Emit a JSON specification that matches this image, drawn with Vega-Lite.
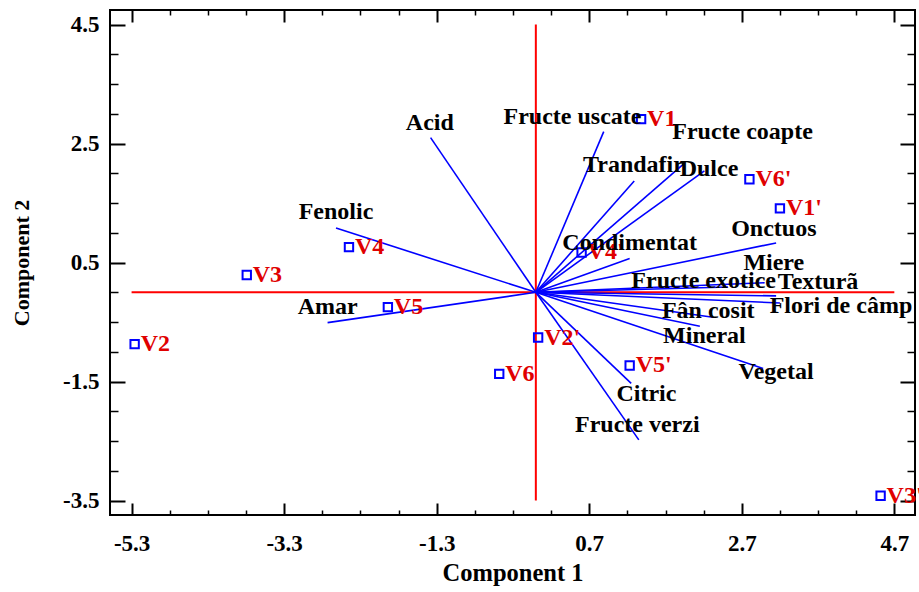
{
  "$schema": "https://vega.github.io/schema/vega-lite/v6.json",
  "width": 805,
  "height": 505,
  "autosize": {"type": "none"},
  "padding": {"left": 110, "top": 10, "right": 4, "bottom": 77},
  "background": "white",
  "config": {
    "font": "Liberation Serif",
    "view": {"stroke": "black", "strokeWidth": 2},
    "axis": {
      "domain": false,
      "grid": false,
      "tickColor": "black",
      "tickWidth": 2,
      "labelFont": "Liberation Serif",
      "labelFontSize": 23,
      "labelFontWeight": "bold",
      "labelColor": "black",
      "titleFont": "Liberation Serif",
      "titleFontWeight": "bold",
      "titleColor": "black"
    }
  },
  "datasets": {
    "crosshair": [
      {"x": -5.3, "x2": 4.7, "y": 0, "y2": 0},
      {"x": 0, "x2": 0, "y": -3.5, "y2": 4.5}
    ],
    "loadings": [
      {"v": "Acid", "x": -1.38, "y": 2.60, "lx": -1.39, "ly": 2.85},
      {"v": "Fenolic", "x": -2.62, "y": 1.08, "lx": -2.62, "ly": 1.35},
      {"v": "Amar", "x": -2.73, "y": -0.51, "lx": -2.73, "ly": -0.24},
      {"v": "Fructe uscate", "x": 0.89, "y": 2.70, "lx": 0.48, "ly": 2.95},
      {"v": "Trandafir", "x": 1.29, "y": 1.87, "lx": 1.28, "ly": 2.14},
      {"v": "Fructe coapte", "x": 1.95, "y": 2.17, "lx": 2.71, "ly": 2.69},
      {"v": "Dulce", "x": 2.21, "y": 2.04, "lx": 2.27, "ly": 2.07},
      {"v": "Condimentat", "x": 1.23, "y": 0.57, "lx": 1.23, "ly": 0.83},
      {"v": "Onctuos", "x": 3.15, "y": 0.83, "lx": 3.12, "ly": 1.07},
      {"v": "Miere", "x": 3.00, "y": 0.16, "lx": 3.12, "ly": 0.49},
      {"v": "Fructe exotice", "x": 2.52, "y": 0.09, "lx": 2.20, "ly": 0.19},
      {"v": "Texturã", "x": 3.15, "y": -0.06, "lx": 3.70, "ly": 0.17},
      {"v": "Flori de câmp", "x": 3.20, "y": -0.18, "lx": 4.00, "ly": -0.23},
      {"v": "Fân cosit", "x": 2.32, "y": -0.42, "lx": 2.26, "ly": -0.31},
      {"v": "Mineral", "x": 2.15, "y": -0.57, "lx": 2.21, "ly": -0.74},
      {"v": "Vegetal", "x": 2.98, "y": -1.28, "lx": 3.15, "ly": -1.34},
      {"v": "Citric", "x": 1.25, "y": -1.53, "lx": 1.45, "ly": -1.71},
      {"v": "Fructe verzi", "x": 1.35, "y": -2.48, "lx": 1.33, "ly": -2.23}
    ],
    "scores": [
      {"s": "V1", "x": 1.38, "y": 2.91},
      {"s": "V6'", "x": 2.80, "y": 1.90},
      {"s": "V1'", "x": 3.20, "y": 1.41},
      {"s": "V4'", "x": 0.60, "y": 0.67},
      {"s": "V4", "x": -2.45, "y": 0.76},
      {"s": "V3", "x": -3.79, "y": 0.29},
      {"s": "V5", "x": -1.94, "y": -0.25},
      {"s": "V2", "x": -5.26, "y": -0.87},
      {"s": "V2'", "x": 0.03, "y": -0.76},
      {"s": "V6", "x": -0.48, "y": -1.37},
      {"s": "V5'", "x": 1.23, "y": -1.23},
      {"s": "V3'", "x": 4.52, "y": -3.42}
    ]
  },
  "resolve": {"axis": {"x": "independent", "y": "independent"}},
  "layer": [
    {
      "data": {"name": "crosshair"},
      "mark": {"type": "rule", "color": "#ff0000", "strokeWidth": 2},
      "encoding": {
        "x": {
          "field": "x", "type": "quantitative",
          "scale": {"domain": [-5.583, 4.971], "nice": false, "zero": false},
          "axis": {
            "orient": "bottom",
            "values": [-5.3, -3.3, -1.3, 0.7, 2.7, 4.7],
            "tickSize": -12,
            "labelPadding": 29,
            "labelExpr": "datum.value < 0 ? '-' + format(-datum.value, '.1f') : format(datum.value, '.1f')",
            "title": "Component 1",
            "titleFontSize": 24.5,
            "titlePadding": 6
          }
        },
        "x2": {"field": "x2"},
        "y": {
          "field": "y", "type": "quantitative",
          "scale": {"domain": [-3.743, 4.745], "nice": false, "zero": false},
          "axis": {
            "orient": "left",
            "values": [-3.5, -1.5, 0.5, 2.5, 4.5],
            "tickSize": -15,
            "labelPadding": 26,
            "labelExpr": "datum.value < 0 ? '-' + format(-datum.value, '.1f') : format(datum.value, '.1f')",
            "title": "Component 2",
            "titleFontSize": 22,
            "titlePadding": 29
          }
        },
        "y2": {"field": "y2"}
      }
    },
    {
      "data": {"name": "loadings"},
      "mark": {"type": "rule", "color": "#0000ff", "strokeWidth": 1.6},
      "encoding": {
        "x": {"field": "x", "type": "quantitative", "scale": {"domain": [-5.583, 4.971], "nice": false, "zero": false}, "axis": null},
        "x2": {"datum": 0},
        "y": {"field": "y", "type": "quantitative", "scale": {"domain": [-3.743, 4.745], "nice": false, "zero": false}, "axis": null},
        "y2": {"datum": 0}
      }
    },
    {
      "data": {"name": "scores"},
      "mark": {"type": "point", "shape": "square", "filled": false, "color": "#0000ff", "strokeWidth": 2, "size": 70, "opacity": 1},
      "encoding": {
        "x": {
          "field": "x", "type": "quantitative",
          "scale": {"domain": [-5.583, 4.971], "nice": false, "zero": false},
          "axis": {"orient": "top", "values": [-5.3, -3.3, -1.3, 0.7, 2.7, 4.7], "tickSize": -12, "labels": false, "title": null}
        },
        "y": {
          "field": "y", "type": "quantitative",
          "scale": {"domain": [-3.743, 4.745], "nice": false, "zero": false},
          "axis": {"orient": "right", "values": [-3.5, -1.5, 0.5, 2.5, 4.5], "tickSize": -15, "labels": false, "title": null}
        }
      }
    },
    {
      "data": {"name": "scores"},
      "mark": {"type": "text", "align": "left", "baseline": "middle", "dx": 6, "dy": 0, "font": "Liberation Serif", "fontSize": 24, "fontWeight": "bold", "color": "#e00000"},
      "encoding": {
        "x": {
          "field": "x", "type": "quantitative",
          "scale": {"domain": [-5.583, 4.971], "nice": false, "zero": false},
          "axis": {"orient": "bottom", "values": [-4.8, -4.3, -3.8, -2.8, -2.3, -1.8, -0.8, -0.3, 0.2, 1.2, 1.7, 2.2, 3.2, 3.7, 4.2], "tickSize": -5, "tickWidth": 1.5, "labels": false, "title": null}
        },
        "y": {
          "field": "y", "type": "quantitative",
          "scale": {"domain": [-3.743, 4.745], "nice": false, "zero": false},
          "axis": {"orient": "left", "values": [-3.0, -2.5, -2.0, -1.0, -0.5, 0.0, 1.0, 1.5, 2.0, 3.0, 3.5, 4.0], "tickSize": -8, "tickWidth": 1.5, "labels": false, "title": null}
        },
        "text": {"field": "s"}
      }
    },
    {
      "data": {"name": "loadings"},
      "mark": {"type": "text", "align": "center", "baseline": "middle", "font": "Liberation Serif", "fontSize": 24, "fontWeight": "bold", "color": "black"},
      "encoding": {
        "x": {
          "field": "lx", "type": "quantitative",
          "scale": {"domain": [-5.583, 4.971], "nice": false, "zero": false},
          "axis": {"orient": "top", "values": [-4.8, -4.3, -3.8, -2.8, -2.3, -1.8, -0.8, -0.3, 0.2, 1.2, 1.7, 2.2, 3.2, 3.7, 4.2], "tickSize": -5, "tickWidth": 1.5, "labels": false, "title": null}
        },
        "y": {
          "field": "ly", "type": "quantitative",
          "scale": {"domain": [-3.743, 4.745], "nice": false, "zero": false},
          "axis": {"orient": "right", "values": [-3.0, -2.5, -2.0, -1.0, -0.5, 0.0, 1.0, 1.5, 2.0, 3.0, 3.5, 4.0], "tickSize": -8, "tickWidth": 1.5, "labels": false, "title": null}
        },
        "text": {"field": "v"}
      }
    }
  ]
}
